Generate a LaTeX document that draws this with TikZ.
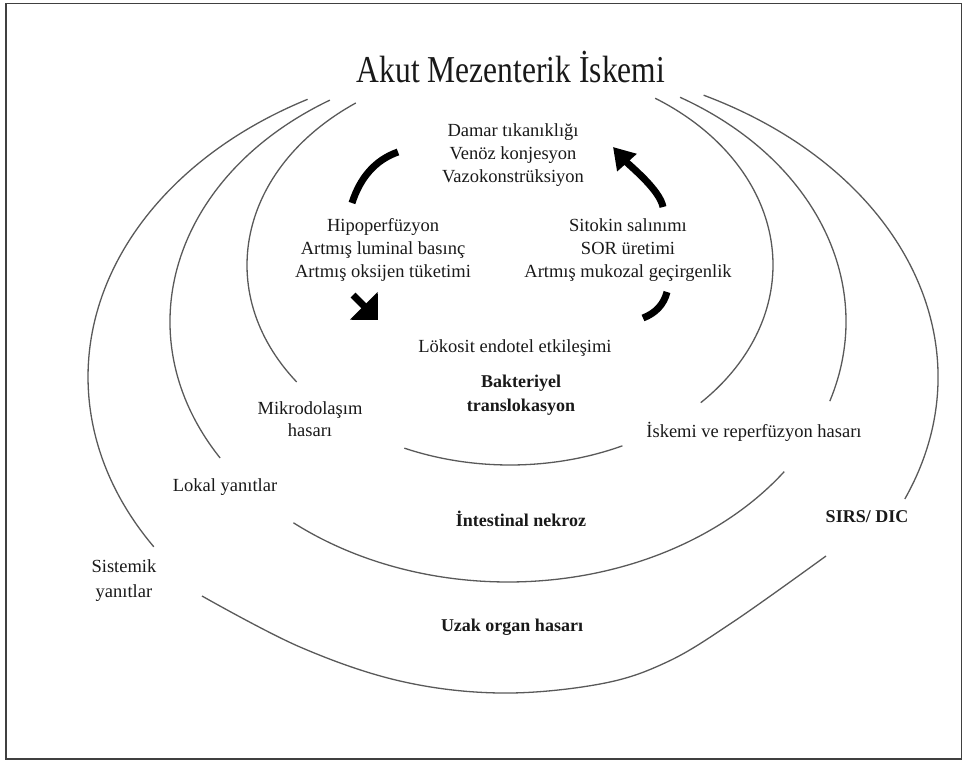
\documentclass[tikz,border=0pt]{standalone}
\usepackage{fontspec}
\setmainfont{Liberation Serif}
\usetikzlibrary{arrows.meta}
\begin{document}
\begin{tikzpicture}[x=1pt,y=-1pt,
  thinarc/.style={draw=black!65, line width=1.3pt},
  thickarc/.style={draw=black, line width=7pt},
  txt/.style={font=\fontsize{18.5}{22}\selectfont, anchor=base, inner sep=0pt, text=black!90},
  btxt/.style={txt, font=\fontsize{18}{22}\selectfont\bfseries},
]
\useasboundingbox (0,0) rectangle (964,761);
\draw[line width=1.5pt, draw=black!75] (6,3.5) rectangle (961.5,759);

% title
\node[txt] (title) at (511,82) {\scalebox{0.83}[1]{\fontsize{38}{40}\selectfont Akut Mezenterik İskemi}};

% inner ellipse
\draw[thinarc] ([shift={(234.1:263 and 200)}]510,265) arc[start angle=234.1, end angle=144.2, x radius=263, y radius=200];
\draw[thinarc] ([shift={(113.7:263 and 200)}]510,265) arc[start angle=113.7, end angle=64.7, x radius=263, y radius=200];
\draw[thinarc] ([shift={(-56.5:263 and 200)}]510,265) arc[start angle=-56.5, end angle=43.5, x radius=263, y radius=200];

% middle ellipse
\draw[thinarc] ([shift={(238.2:338 and 260.5)}]508,321.5) arc[start angle=238.2, end angle=148.4, x radius=338, y radius=260.5];
\draw[thinarc] ([shift={(129.4:338 and 260.5)}]508,321.5) arc[start angle=129.4, end angle=35.2, x radius=338, y radius=260.5];
\draw[thinarc] ([shift={(-59.4:338 and 260.5)}]508,321.5) arc[start angle=-59.4, end angle=17.8, x radius=338, y radius=260.5];

% outer ellipse
\draw[thinarc] ([shift={(241.5:420 and 316)}]508,377) arc[start angle=241.5, end angle=147.5, x radius=420, y radius=316];
\draw[thinarc] ([shift={(-63.1:428 and 316)}]510,377) arc[start angle=-63.1, end angle=22.7, x radius=428, y radius=316];
\draw[thinarc] plot[smooth, tension=0.6] coordinates {(202,596) (300,647) (400,681) (500,693) (600,684) (667,662) (733,622) (826,556)};

% cycle arrows
\draw[thickarc] (352,203) .. controls (360,178) and (375,160) .. (398,152);
\draw[thickarc, -{Triangle[length=20pt,width=38pt]}] (353,295) -- (378,320);
\draw[thickarc] (667,292) .. controls (664,304) and (656,313) .. (643,318);
\draw[thickarc, -{Triangle[length=21pt,width=25pt]}] (663,207) .. controls (660,190) and (630,166) .. (613,147);

% texts
\node[txt] (dam) at (513,136.5) {Damar tıkanıklığı};
\node[txt] (ven) at (513,159.5) {Venöz konjesyon};
\node[txt] (vaz) at (513,182.5) {Vazokonstrüksiyon};
\node[txt] (hip) at (383,231.5) {Hipoperfüzyon};
\node[txt] (lum) at (383,254.5) {Artmış luminal basınç};
\node[txt] (oks) at (383,277.5) {Artmış oksijen tüketimi};
\node[txt] (sit) at (628,231.5) {Sitokin salınımı};
\node[txt] (sor) at (628,254.5) {SOR üretimi};
\node[txt] (muk) at (628,277.5) {Artmış mukozal geçirgenlik};
\node[txt] (lok) at (515,352.5) {Lökosit endotel etkileşimi};
\node[btxt] (bak) at (521,387.5) {Bakteriyel};
\node[btxt] (tra) at (521,411.5) {translokasyon};
\node[txt] (mik) at (310,414.5) {Mikrodolaşım};
\node[txt] (has) at (310,436.5) {hasarı};
\node[txt] (isk) at (754,437.5) {İskemi ve reperfüzyon hasarı};
\node[btxt] (sirs) at (867,522.5) {SIRS/ DIC};
\node[txt] (lokal) at (225,491.5) {Lokal yanıtlar};
\node[btxt] (int) at (521,526.5) {İntestinal nekroz};
\node[txt] (sis) at (124,572.5) {Sistemik};
\node[txt] (yan) at (124,597.5) {yanıtlar};
\node[btxt] (uzak) at (512,631.5) {Uzak organ hasarı};
\end{tikzpicture}
\end{document}
